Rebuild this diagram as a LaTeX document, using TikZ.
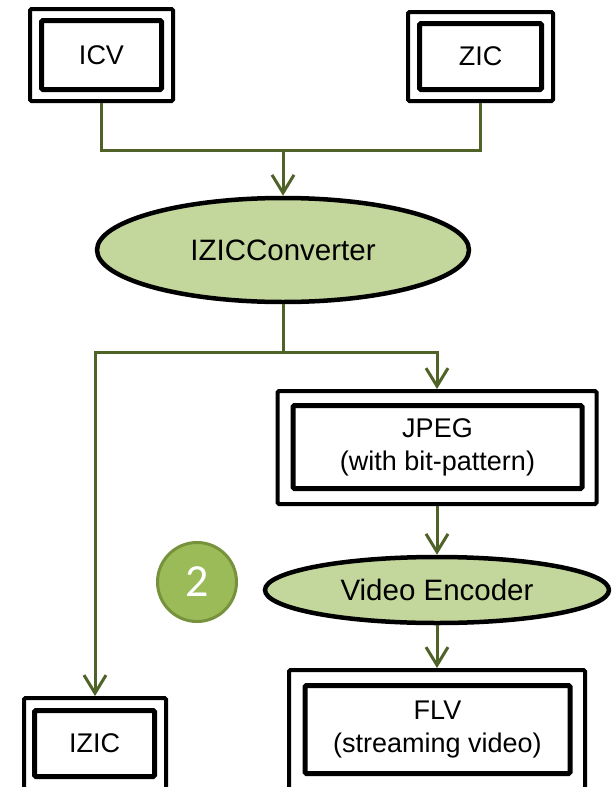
\documentclass[tikz,border=0pt]{standalone}
\usepackage{fontspec}
\setmainfont{Liberation Sans}
\newfontfamily\digitfont{Carlito}
\usetikzlibrary{arrows.meta,shapes.geometric}

\definecolor{flowline}{RGB}{79,98,40}
\definecolor{procfill}{RGB}{195,214,155}
\definecolor{badgefill}{RGB}{155,187,89}
\definecolor{badgeedge}{RGB}{118,146,60}

\tikzset{
  outerbox/.style={draw=black, line width=4pt, rounded corners=1.5pt, fill=white, inner sep=0pt},
  innerbox/.style={draw=black, line width=5pt, rounded corners=1.5pt, inner sep=0pt,
                   align=center, font=\fontsize{27}{33}\selectfont},
  process/.style={ellipse, draw=black, line width=4.5pt, fill=procfill, inner sep=0pt,
                  font=\fontsize{29.5}{33}\selectfont},
  link/.style={draw=flowline, line width=3pt},
  flow/.style={link, -{Straight Barb[length=18pt,width=22pt]}},
  badge/.style={circle, draw=badgeedge, line width=3pt, fill=badgefill, inner sep=0pt,
                minimum size=79pt, text=white, font=\digitfont\fontsize{46}{46}\selectfont}
}

\begin{document}
\begin{tikzpicture}[x=1pt,y=-1pt]
  \useasboundingbox (0,0) rectangle (611,787);
  \clip (0,0) rectangle (611,787);

  % source files
  \node[outerbox, minimum width=143pt, minimum height=92pt] (icv) at (101.5,55) {};
  \node[innerbox, minimum width=120pt, minimum height=69pt] (icvin) at (icv.center) {ICV};

  \node[outerbox, minimum width=145pt, minimum height=89pt] (zic) at (480.5,56.5) {};
  \node[innerbox, minimum width=122pt, minimum height=66pt] (zicin) at (zic.center) {ZIC};

  % converter
  \node[process, minimum width=372pt, minimum height=104pt] (conv) at (283,250) {IZICConverter};

  % outputs
  \node[outerbox, minimum width=142pt, minimum height=94pt] (izic) at (95,745) {};
  \node[innerbox, minimum width=120pt, minimum height=66pt] (izicin) at (94.5,743.5) {IZIC};

  \node[outerbox, minimum width=319pt, minimum height=113pt] (jpeg) at (437,447.5) {};
  \node[innerbox, minimum width=289pt, minimum height=83pt] (jpegin) at (437.5,447) {JPEG\\(with bit-pattern)};

  \node[process, minimum width=344pt, minimum height=66pt] (venc) at (437,590) {Video Encoder};

  \node[outerbox, minimum width=296pt, minimum height=124pt] (flv) at (437,732) {};
  \node[innerbox, minimum width=265pt, minimum height=88pt] (flvin) at (437.5,729.5) {FLV\\(streaming video)};

  % step badge
  \node[badge] (step2) at (197,582) {2};

  % connectors
  \coordinate (merge) at (283,150);
  \coordinate (split) at (283,352);
  \draw[link] (icv.south) |- (merge) -| (zic.south);
  \draw[flow] (merge) -- (conv.north);
  \draw[link] (conv.south) -- (split);
  \draw[flow] (split) -| (izic.north);
  \draw[flow] (split) -| (jpeg.north);
  \draw[flow] (jpeg.south) -- (venc.north);
  \draw[flow] (venc.south) -- (flv.north);
\end{tikzpicture}
\end{document}
